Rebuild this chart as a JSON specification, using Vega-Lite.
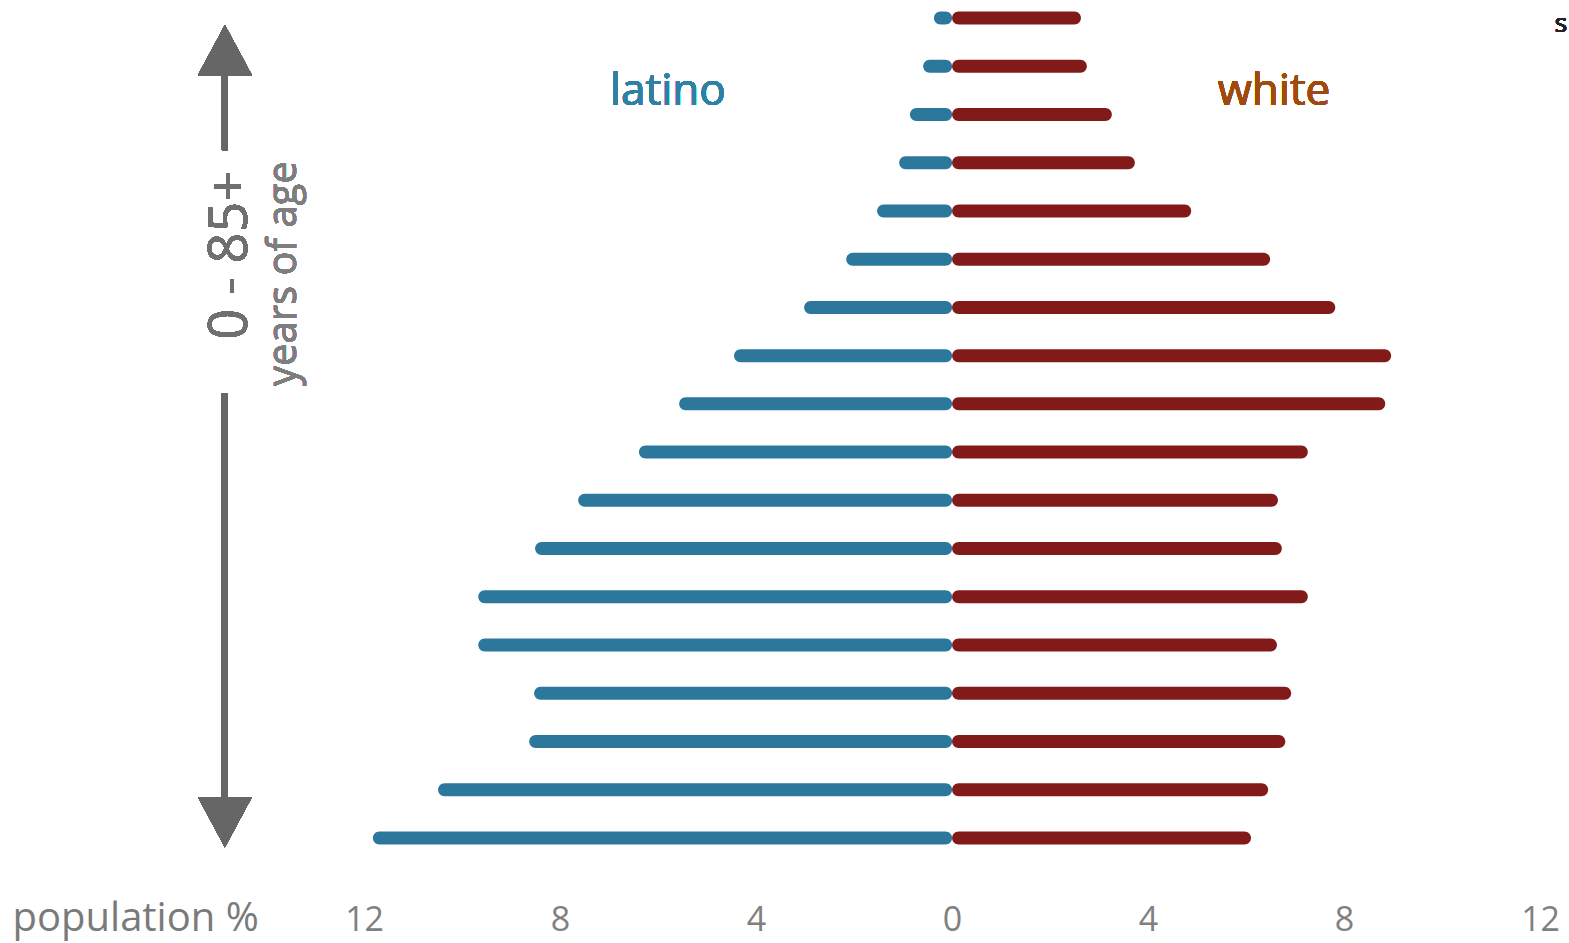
{
  "$schema": "https://vega.github.io/schema/vega-lite/v6.json",
  "width": 1569,
  "height": 880,
  "autosize": {"type": "none"},
  "padding": {"left": 0, "top": 0, "right": 0, "bottom": 63},
  "background": "white",
  "config": {"view": {"stroke": null}, "font": "Open Sans"},
  "data": {
    "values": [
      {"age": 85, "group": "latino", "pct": 0.37},
      {"age": 80, "group": "latino", "pct": 0.59},
      {"age": 75, "group": "latino", "pct": 0.86},
      {"age": 70, "group": "latino", "pct": 1.08},
      {"age": 65, "group": "latino", "pct": 1.53},
      {"age": 60, "group": "latino", "pct": 2.16},
      {"age": 55, "group": "latino", "pct": 3.02},
      {"age": 50, "group": "latino", "pct": 4.45},
      {"age": 45, "group": "latino", "pct": 5.57},
      {"age": 40, "group": "latino", "pct": 6.39},
      {"age": 35, "group": "latino", "pct": 7.63},
      {"age": 30, "group": "latino", "pct": 8.51},
      {"age": 25, "group": "latino", "pct": 9.67},
      {"age": 20, "group": "latino", "pct": 9.67},
      {"age": 15, "group": "latino", "pct": 8.53},
      {"age": 10, "group": "latino", "pct": 8.63},
      {"age": 5, "group": "latino", "pct": 10.49},
      {"age": 0, "group": "latino", "pct": 11.82},
      {"age": 85, "group": "white", "pct": 2.63},
      {"age": 80, "group": "white", "pct": 2.75},
      {"age": 75, "group": "white", "pct": 3.26},
      {"age": 70, "group": "white", "pct": 3.73},
      {"age": 65, "group": "white", "pct": 4.88},
      {"age": 60, "group": "white", "pct": 6.49},
      {"age": 55, "group": "white", "pct": 7.82},
      {"age": 50, "group": "white", "pct": 8.96},
      {"age": 45, "group": "white", "pct": 8.84},
      {"age": 40, "group": "white", "pct": 7.26},
      {"age": 35, "group": "white", "pct": 6.65},
      {"age": 30, "group": "white", "pct": 6.73},
      {"age": 25, "group": "white", "pct": 7.26},
      {"age": 20, "group": "white", "pct": 6.63},
      {"age": 15, "group": "white", "pct": 6.92},
      {"age": 10, "group": "white", "pct": 6.80},
      {"age": 5, "group": "white", "pct": 6.45},
      {"age": 0, "group": "white", "pct": 6.10}
    ]
  },
  "layer": [
    {
      "transform": [{"calculate": "datum.group === 'latino' ? -datum.pct : datum.pct", "as": "signed"}],
      "mark": {"type": "bar", "orient": "horizontal", "size": 13, "cornerRadius": 6.5},
      "encoding": {
        "x": {
          "field": "signed", "type": "quantitative",
          "scale": {"domain": [-19.43, 12.59], "nice": false, "zero": false, "padding": 0},
          "axis": {
            "orient": "bottom", "values": [-12, -8, -4, 0, 4, 8, 12],
            "labelExpr": "'' + abs(datum.value)",
            "domain": false, "ticks": false, "tickSize": 0, "grid": false,
            "labelFontSize": 34, "labelColor": "#808080", "labelBaseline": "middle",
            "labelPadding": 40, "labelFlush": false, "labelOverlap": false, "labelBound": false,
            "title": "population %", "titleX": 12, "titleY": 38, "titleAlign": "left", "titleAnchor": null,
            "titleBaseline": "middle", "titleFontSize": 40, "titleFontWeight": "normal", "titleColor": "#7a7a7a"
          }
        },
        "x2": {"datum": 0},
        "y": {
          "field": "age", "type": "quantitative",
          "scale": {"domain": [-4.35, 86.86], "nice": false, "zero": false, "padding": 0},
          "axis": null
        },
        "color": {
          "field": "group", "type": "nominal",
          "scale": {"domain": ["latino", "white"], "range": ["#2c789c", "#821a1a"]},
          "legend": null
        }
      }
    },
    {
      "mark": {"type": "rule", "color": "#666666", "strokeWidth": 6},
      "encoding": {"x": {"datum": -14.84, "type": "quantitative"}, "y": {"datum": 79.1, "type": "quantitative"}, "y2": {"datum": 71.3}}
    },
    {
      "mark": {"type": "rule", "color": "#666666", "strokeWidth": 6},
      "encoding": {"x": {"datum": -14.84, "type": "quantitative"}, "y": {"datum": 46.1, "type": "quantitative"}, "y2": {"datum": 3.9}}
    },
    {
      "mark": {"type": "point", "shape": "M-1,0.93L0,-0.93L1,0.93Z", "filled": true, "color": "#666666", "opacity": 1, "size": 2916},
      "encoding": {"x": {"datum": -14.84, "type": "quantitative"}, "y": {"datum": 81.67, "type": "quantitative"}}
    },
    {
      "mark": {"type": "point", "shape": "M-1,-0.93L0,0.93L1,-0.93Z", "filled": true, "color": "#666666", "opacity": 1, "size": 2916},
      "encoding": {"x": {"datum": -14.84, "type": "quantitative"}, "y": {"datum": 1.66, "type": "quantitative"}}
    },
    {
      "mark": {"type": "text", "text": "0 - 85+", "angle": 270, "align": "center", "baseline": "middle", "fontSize": 54, "color": "#707070"},
      "encoding": {"x": {"datum": -14.72, "type": "quantitative"}, "y": {"datum": 60.4, "type": "quantitative"}}
    },
    {
      "mark": {"type": "text", "text": "years of age", "angle": 270, "align": "center", "baseline": "middle", "fontSize": 40, "color": "#7e7e7e"},
      "encoding": {"x": {"datum": -13.63, "type": "quantitative"}, "y": {"datum": 58.5, "type": "quantitative"}}
    },
    {
      "mark": {"type": "text", "text": "latino", "align": "center", "baseline": "middle", "fontSize": 44, "color": "#2e80a4"},
      "encoding": {"x": {"datum": -5.8, "type": "quantitative"}, "y": {"datum": 77.3, "type": "quantitative"}}
    },
    {
      "mark": {"type": "text", "text": "white", "align": "center", "baseline": "middle", "fontSize": 44, "color": "#a04a0e"},
      "encoding": {"x": {"datum": 6.57, "type": "quantitative"}, "y": {"datum": 77.3, "type": "quantitative"}}
    },
    {
      "mark": {"type": "text", "text": "s", "align": "left", "baseline": "middle", "fontSize": 26, "color": "#222222"},
      "encoding": {"x": {"datum": 12.3, "type": "quantitative"}, "y": {"datum": 84.4, "type": "quantitative"}}
    }
  ]
}
